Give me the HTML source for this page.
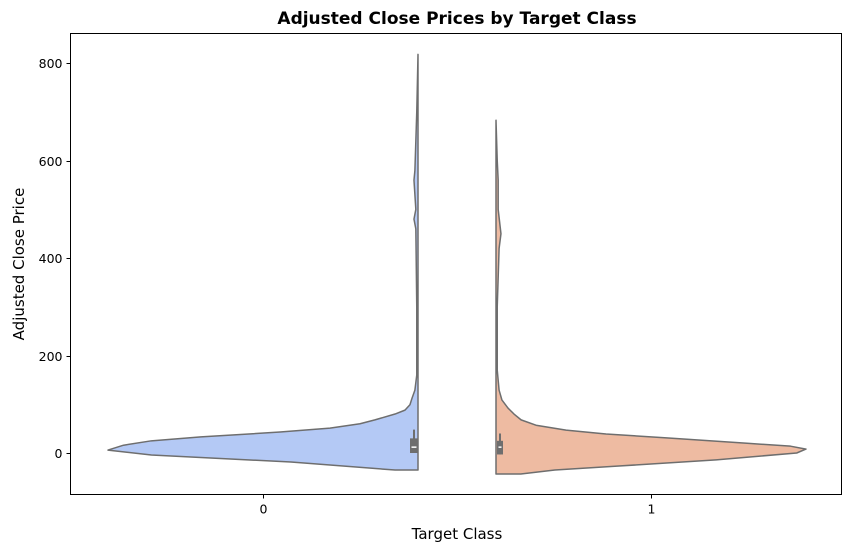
<!DOCTYPE html>
<html><head><meta charset="utf-8"><style>
body{margin:0;background:#fff;font-family:"DejaVu Sans","Liberation Sans",sans-serif}
svg{display:block}
</style></head><body>
<svg id="c" width="854" height="552" xmlns="http://www.w3.org/2000/svg"></svg>
<script>
const categories = ["0","1"];
const yTicks = [0,200,400,600,800];
// density profiles: price levels and relative half-width (0..1)
const class0Prices = [-35,-35,-18.5,-4,6,16,25,33,43,51,60,68,80,88,99,113,129,160,300,460,480,500,560,580,700,818];
const class0Density = [0,0.074,0.41,0.86,1,0.95,0.86,0.70,0.445,0.284,0.187,0.139,0.074,0.042,0.026,0.019,0.01,0.004,0.004,0.007,0.013,0.007,0.013,0.01,0.004,0];
const class1Prices = [-43,-43,-35,-27,-14,0,8,14,20,31,39,47,57,68,80,92,109,129,170,300,420,450,500,560,600,683];
const class1Density = [0,0.08,0.19,0.39,0.71,0.97,1,0.95,0.81,0.55,0.355,0.226,0.129,0.081,0.058,0.039,0.019,0.01,0.004,0.004,0.01,0.016,0.007,0.007,0.004,0];
const class0Box = [0,30,48]; // q1,q3,whiskerTop
const class1Box = [-3,25,40];
const class0Median = 12, class1Median = 12;

const NS="http://www.w3.org/2000/svg";
const svg=document.getElementById('c');
const L=70.5,R=841.5,T=33.5,B=494.5;
const y=v=>453-v*0.48725;
const xc=i=>263+i*388;
const halfW=310;
function el(t,a,p){const e=document.createElementNS(NS,t);for(const k in a)e.setAttribute(k,a[k]);(p||svg).appendChild(e);return e;}

function violin(prices,dens,edge,dir,fill,name){
  let d=`M${edge},${y(prices[0])}`;
  prices.forEach((p,k)=>{d+=` L${edge+dir*dens[k]*halfW},${y(p)}`;});
  d+=` L${edge},${y(prices[prices.length-1])} Z`;
  const e=el('path',{d,fill,stroke:'#6e6e6e','stroke-width':1.5,'stroke-linejoin':'round'});
  
  
}
violin(class0Prices,class0Density,418,-1,'#b4c9f5','violin-class-0');
violin(class1Prices,class1Density,496,1,'#eebba2','violin-class-1');

function box(b,med,x0,x1,name){
  const wx=(x0+x1)/2;
  const w=el('line',{x1:wx,x2:wx,y1:y(b[0]),y2:y(b[2]),stroke:'#6e6e6e','stroke-width':2});
  
  
  const r=el('rect',{x:x0,y:y(b[1]),width:x1-x0,height:y(b[0])-y(b[1]),fill:'#6e6e6e'});
  
  
  const m=el('line',{x1:x0+1.5,x2:x1-1.5,y1:y(med),y2:y(med),stroke:'#fff','stroke-width':1.5});
  
  
}
box(class0Box,class0Median,410,418,'box-class-0');
box(class1Box,class1Median,497,503,'box-class-1');

const frame=el('rect',{x:L,y:T,width:R-L,height:B-T,fill:'none',stroke:'#000','stroke-width':1});



yTicks.forEach(v=>{
  const yy=Math.round(y(v))+0.5;
  const ln=el('line',{x1:L-4,x2:L,y1:yy,y2:yy,stroke:'#000'});
  
  
  const t=el('text',{x:L-8,y:yy+4.5,'text-anchor':'end','font-size':12.5});
  t.textContent=v;
  
  
});
categories.forEach((c,i)=>{
  const xx=xc(i)+0.5;
  const ln=el('line',{x1:xx,x2:xx,y1:B,y2:B+4,stroke:'#000'});
  
  
  const t=el('text',{x:xx,y:B+19,'text-anchor':'middle','font-size':12.5});
  t.textContent=c;
  
  
});

const title=el('text',{x:457,y:24,'text-anchor':'middle','font-size':17,'font-weight':'bold'});
title.textContent='Adjusted Close Prices by Target Class';


const xl=el('text',{x:457,y:539,'text-anchor':'middle','font-size':15});
xl.textContent='Target Class';


const yl=el('text',{x:0,y:0,'text-anchor':'middle','font-size':15,transform:`translate(24,${(T+B)/2}) rotate(-90)`});
yl.textContent='Adjusted Close Price';


</script>
</body></html>
